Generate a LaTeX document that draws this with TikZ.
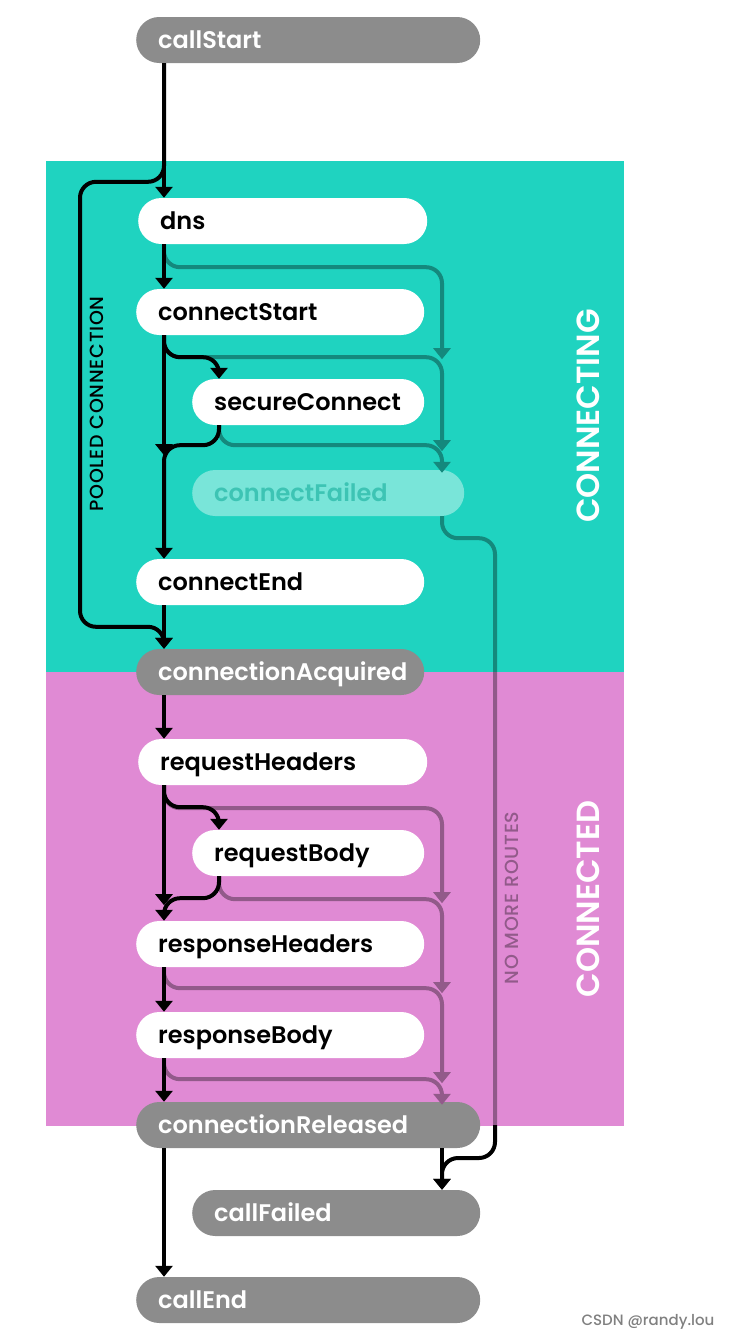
\documentclass[tikz,border=0pt]{standalone}
\usepackage{fontspec}
\IfFontExistsTF{Poppins SemiBold}{\newfontfamily\labelfont{Poppins SemiBold}}{%
  \IfFontExistsTF{Poppins Medium}{\newfontfamily\labelfont{Poppins Medium}[FakeBold=1]}{\newfontfamily\labelfont{Poppins}[FakeBold=2]}}
\IfFontExistsTF{Poppins Medium}{\newfontfamily\tagfont{Poppins Medium}}{\newfontfamily\tagfont{Poppins}}
\usetikzlibrary{arrows.meta,positioning,calc}
\definecolor{okcyan}{HTML}{1FD3C0}
\definecolor{okpink}{HTML}{E08AD4}
\definecolor{okgrey}{HTML}{8C8C8C}
\definecolor{okghost}{HTML}{79E5D9}
\definecolor{okghosttext}{HTML}{3DC4B4}
\colorlet{failcyan}{okcyan!65!black}
\colorlet{failpink}{okpink!65!black}

\begin{document}
\begin{tikzpicture}[x=1pt, y=-1pt,
  >={Triangle[width=17pt,length=11pt]},
  pill/.style={rounded corners=23pt, minimum height=46pt, inner xsep=22pt, inner ysep=0pt, text width=#1, text height=17pt, text depth=0pt, align=left, anchor=west, font=\labelfont\fontsize{24}{24}\selectfont},
  live/.style={pill=#1, fill=white, text=black},
  edge/.style={pill=#1, fill=okgrey, text=white},
  ghost/.style={pill=#1, fill=okghost, text=okghosttext},
  flow/.style={->, line width=4pt, black, rounded corners=16pt},
  failc/.style={flow, draw=failcyan},
  failp/.style={flow, draw=failpink},
  tag/.style={rotate=90, font=\tagfont\fontsize{19}{19}\selectfont\addfontfeature{LetterSpace=4}},
  phase/.style={rotate=90, text=white, font=\labelfont\fontsize{32}{32}\selectfont},
]
  \useasboundingbox (0,0) rectangle (735,1339);
  % phases
  \fill[okcyan] (46,161) rectangle (624,672);
  \fill[okpink] (46,672) rectangle (624,1126);
  \node[phase] (connecting) at (588,416) {CONNECTING};
  \node[phase] (connected) at (588,899) {CONNECTED};

  % events
  \node[edge=300pt] (callstart) at (136,40) {callStart};
  \node[live=245pt] (dns) at (138,221) {dns};
  \node[live=244pt] (connstart) at (136,312) {connectStart};
  \node[live=188pt] (secure) at (192,402) {secureConnect};
  \node[ghost=228pt] (connfail) at (192,493) {connectFailed};
  \node[live=244pt] (connend) at (136,582) {connectEnd};
  \node[edge=244pt] (acquired) at (136,672) {connectionAcquired};
  \node[live=245pt] (reqhead) at (138,762) {requestHeaders};
  \node[live=188pt] (reqbody) at (192,853) {requestBody};
  \node[live=244pt] (resphead) at (136,944) {responseHeaders};
  \node[live=244pt] (respbody) at (136,1035) {responseBody};
  \node[edge=300pt] (released) at (136,1125) {connectionReleased};
  \node[edge=244pt] (callfail) at (192,1213) {callFailed};
  \node[edge=300pt] (callend) at (136,1300) {callEnd};

  \coordinate (spine) at (164,0);
  \coordinate (pool) at (80,0);
  \coordinate (rail) at (442,0);
  \coordinate (outer) at (495,0);
  \coordinate (exit) at (released.center -| outer);

  % failures
  \draw[failc] (dns.south -| spine) -- ++(0,23) -| ($(connstart.south -| rail)+(0,24)$);
  \draw[failc] (connstart.south -| spine) -- ++(0,22) -| ($(secure.south -| rail)+(0,26)$);
  \draw[failc] ($(secure.south west)+(27,0)$) -- ++(0,20) -| ($(connfail.north -| rail)+(0,3)$);
  \draw[failp] (reqhead.south -| spine) -- ++(0,23) -| ($(reqbody.south -| rail)+(0,27)$);
  \draw[failp] ($(reqbody.south west)+(27,0)$) -- ++(0,23) -| ($(resphead.south -| rail)+(0,26)$);
  \draw[failp] (resphead.south -| spine) -- ++(0,21) -| ($(respbody.south -| rail)+(0,25)$);
  \draw[failp] (respbody.south -| spine) -- ++(0,21) -| ($(released.north -| rail)+(0,3)$);
  \draw[flow, -, draw opacity=.35] (connfail.south -| rail) -- ++(0,22) -| (exit);
  \draw[flow] (exit) -- ++(0,33) -| (callfail.north -| rail);

  % main path
  \draw[flow] (callstart.south -| spine) -- (dns.north -| spine);
  \draw[flow] (callstart.south -| spine) |- ($(dns.north -| pool)+(0,-16)$) -- ($(acquired.north -| pool)+(0,-22)$) -| (acquired.north -| spine);
  \draw[flow] (dns.south -| spine) -- (connstart.north -| spine);
  \draw[flow] (connstart.south -| spine) -- ++(0,22) -| ($(secure.north west)+(27,0)$);
  \draw[flow] (connstart.south -| spine) -- ++(0,120);
  \draw[flow] ($(secure.south west)+(27,0)$) -- ++(0,20) -| (connend.north -| spine);
  \draw[flow] (connend.south -| spine) -- (acquired.north -| spine);
  \draw[flow] (acquired.south -| spine) -- (reqhead.north -| spine);
  \draw[flow] (reqhead.south -| spine) -- ++(0,22) -| ($(reqbody.north west)+(27,0)$);
  \draw[flow] (reqhead.south -| spine) -- ++(0,120);
  \draw[flow] ($(reqbody.south west)+(27,0)$) -- ++(0,22) -| (resphead.north -| spine);
  \draw[flow] (resphead.south -| spine) -- (respbody.north -| spine);
  \draw[flow] (respbody.south -| spine) -- (released.north -| spine);
  \draw[flow] (released.south -| rail) -- (callfail.north -| rail);
  \draw[flow] (released.south -| spine) -- (callend.north -| spine);

  % labels
  \node[tag] (pooled) at (97,404) {POOLED CONNECTION};
  \node[tag, text=failpink] (noroutes) at (512,898) {NO MORE ROUTES};
  \node[font=\tagfont\fontsize{15}{15}\selectfont, text=gray] (mark) at (648,1322) {CSDN @randy.lou};
\end{tikzpicture}
\end{document}
